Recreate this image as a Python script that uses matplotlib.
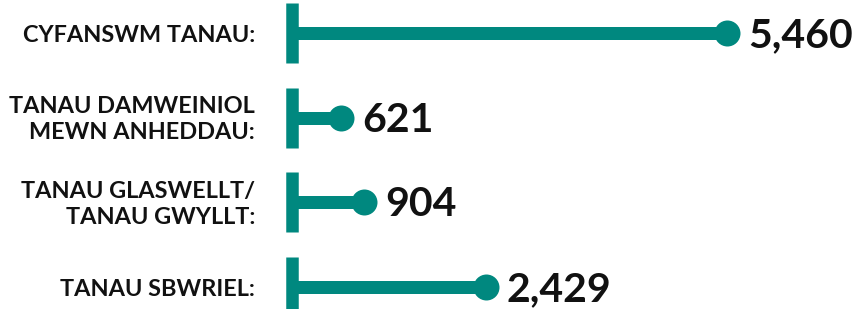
import matplotlib.pyplot as plt

# data
labels = [
    ['CYFANSWM TANAU:'],
    ['TANAU DAMWEINIOL', 'MEWN ANHEDDAU:'],
    ['TANAU GLASWELLT/', 'TANAU GWYLLT:'],
    ['TANAU SBWRIEL:'],
]
values = [5460, 621, 904, 2429]
value_text = ['5,460', '621', '904', '2,429']

teal = '#00887f'
W, H, DPI = 867, 309, 100
PT = 72 / DPI  # points per pixel

plt.rcParams['font.family'] = ['Lato', 'DejaVu Sans']

fig = plt.figure(figsize=(W / DPI, H / DPI), dpi=DPI)
ax = fig.add_axes([0, 0, 1, 1])
ax.axis('off')

# pixel layout: zero at x=292px, 0.0797 px per unit; rows 84.7px apart from y=33px
x0, scale = 292, 0.0797
y0, step = 33, 84.7
ax.set_xlim(-x0 / scale, (W - x0) / scale)
ax.set_ylim((H - y0) / step, -y0 / step)

half = 30 / step
for i, (lab, v, vt) in enumerate(zip(labels, values, value_text)):
    ax.plot([0, v], [i, i], color=teal, lw=13 * PT, solid_capstyle='butt', zorder=2)
    ax.plot([0, 0], [i - half, i + half], color=teal, lw=12.5 * PT, solid_capstyle='butt', zorder=3)
    ax.plot([v], [i], 'o', color=teal, ms=26 * PT, mew=0, zorder=4)

    # value text
    ax.annotate(vt, xy=(v, i), xytext=(21 * PT, -14 * PT), textcoords='offset points',
                ha='left', va='baseline', fontsize=41 * PT, fontweight='bold', color='#111111')

    # category label, one text per line
    cap = 17
    n = len(lab)
    for k, line in enumerate(lab):
        base = (k - (n - 1) / 2) * 26 + cap / 2
        ax.annotate(line, xy=(0, i), xytext=(-37 * PT, -base * PT), textcoords='offset points',
                    ha='right', va='baseline', fontsize=23.5 * PT, fontweight='bold', color='#111111')

fig.savefig('out.png', dpi=DPI, facecolor='white')
